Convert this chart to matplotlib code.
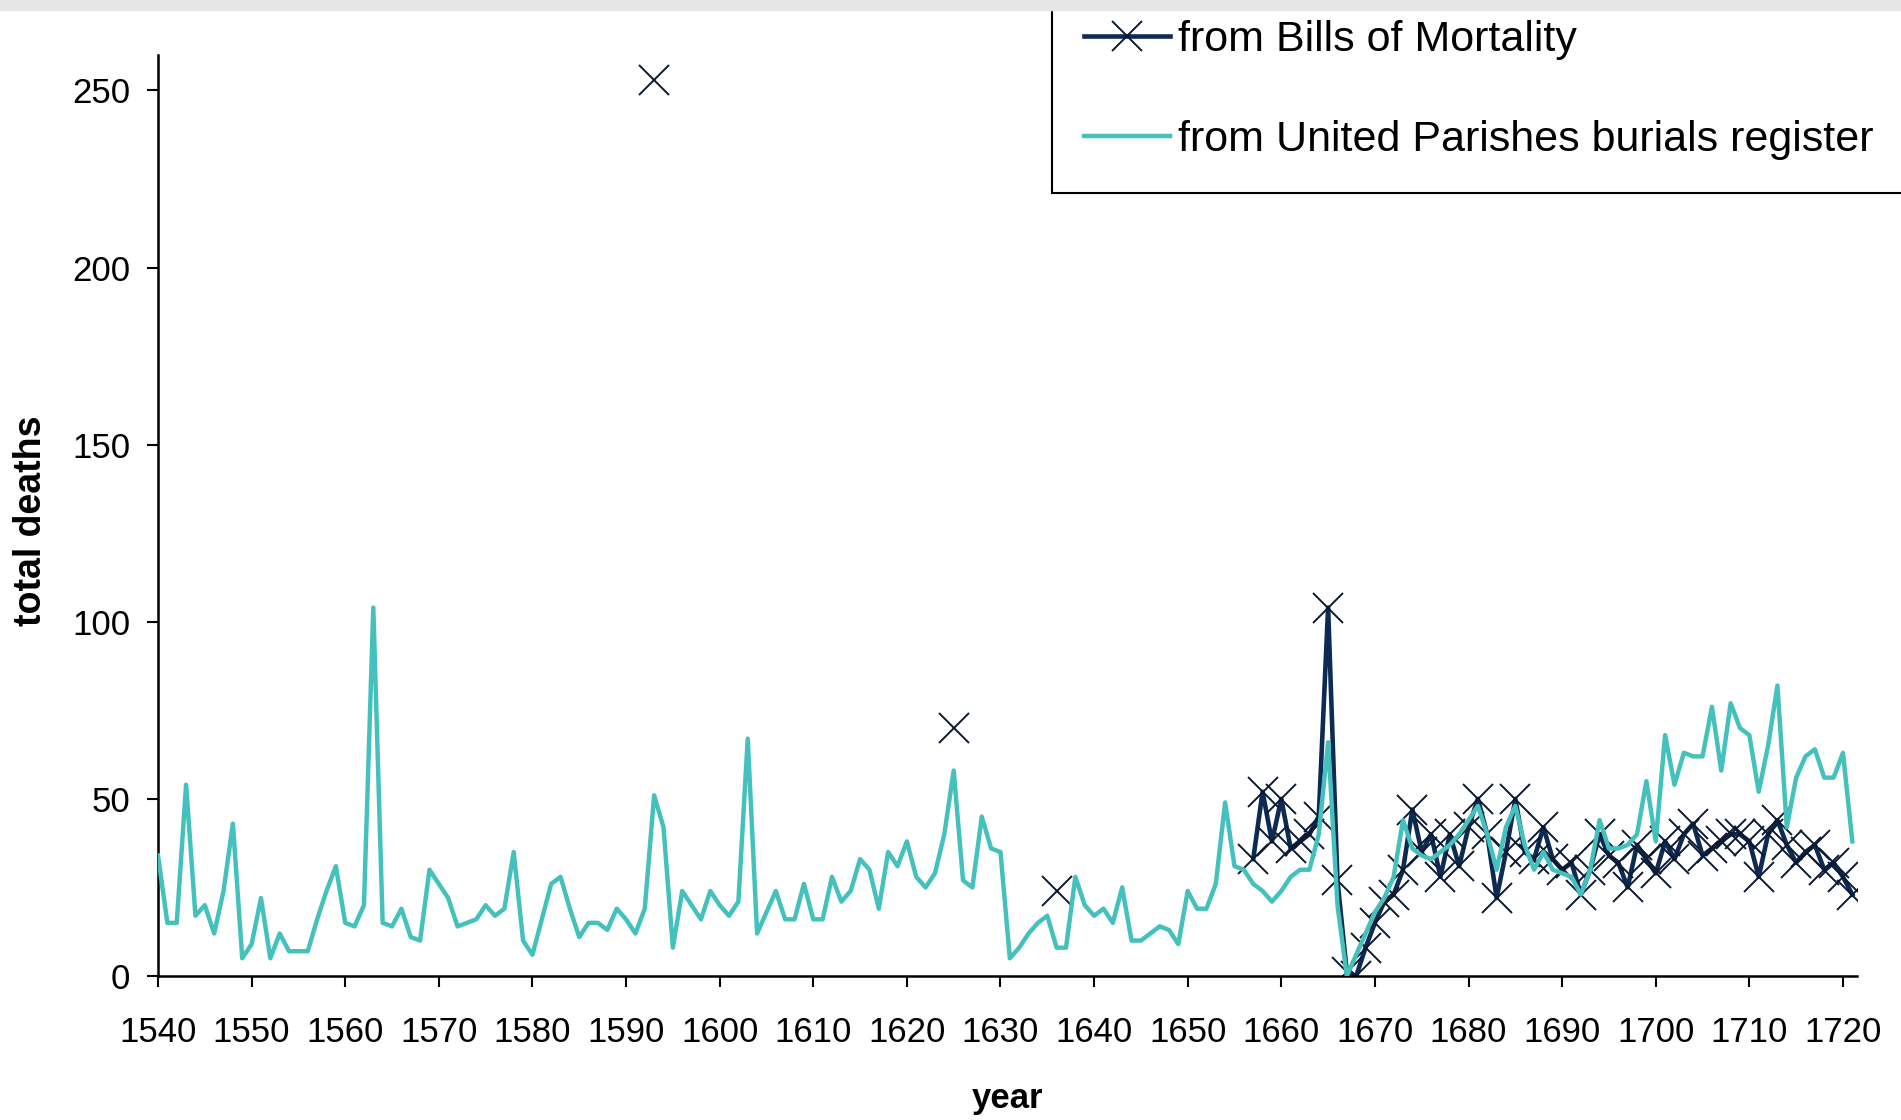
import numpy as np
import matplotlib
matplotlib.use('Agg')
import matplotlib.pyplot as plt
from matplotlib.patches import Rectangle

plt.rcParams['font.family'] = ['Liberation Sans', 'DejaVu Sans']

# United Parishes burials register, one value per year 1540-1721
parish_years = np.arange(1540, 1722)
parish_deaths = [
    34, 15, 15, 54, 17, 20, 12, 24, 43, 5,      # 1540s
    9, 22, 5, 12, 7, 7, 7, 16, 24, 31,          # 1550s
    15, 14, 20, 104, 15, 14, 19, 11, 10, 30,    # 1560s
    26, 22, 14, 15, 16, 20, 17, 19, 35, 10,     # 1570s
    6, 16, 26, 28, 19, 11, 15, 15, 13, 19,      # 1580s
    16, 12, 19, 51, 42, 8, 24, 20, 16, 24,      # 1590s
    20, 17, 21, 67, 12, 18, 24, 16, 16, 26,     # 1600s
    16, 16, 28, 21, 24, 33, 30, 19, 35, 31,     # 1610s
    38, 28, 25, 29, 40, 58, 27, 25, 45, 36,     # 1620s
    35, 5, 8, 12, 15, 17, 8, 8, 28, 20,         # 1630s
    17, 19, 15, 25, 10, 10, 12, 14, 13, 9,      # 1640s
    24, 19, 19, 26, 49, 31, 30, 26, 24, 21,     # 1650s
    24, 28, 30, 30, 40, 66, 20, 0, 6, 12,       # 1660s
    18, 22, 28, 44, 36, 34, 33, 35, 37, 40,     # 1670s
    44, 48, 40, 30, 42, 48, 37, 30, 35, 30,     # 1680s
    29, 28, 23, 30, 44, 36, 36, 37, 40, 55,     # 1690s
    38, 68, 54, 63, 62, 62, 76, 58, 77, 70,     # 1700s
    68, 52, 65, 82, 42, 56, 62, 64, 56, 56,     # 1710s
    63, 38,                                     # 1720-21
]

# Bills of Mortality: three isolated years, then a run 1657-1721
bills_years = [1593, 1625, 1636] + list(range(1657, 1722))
bills_deaths = [
    253, 70, 24,
    33, 52, 38,                                  # 1657-59
    50, 36, 38, 40, 45, 104, 27, 1, 0, 8,        # 1660s
    15, 21, 23, 30, 47, 35, 40, 28, 40, 31,      # 1670s
    42, 50, 40, 22, 35, 50, 35, 33, 42, 33,      # 1680s
    30, 32, 23, 30, 40, 34, 32, 25, 37, 33,      # 1690s
    29, 38, 33, 40, 43, 34, 36, 38, 40, 40,      # 1700s
    38, 28, 40, 44, 37, 32, 35, 37, 30, 32,      # 1710s
    28, 23,                                      # 1720-21
]

xticks = np.arange(1540, 1721, 10)
yticks = np.arange(0, 251, 50)

dark = '#0c2a52'
teal = '#45c1bd'

# break the bills line where years are missing
bx = np.array(bills_years, dtype=float)
by = np.array(bills_deaths, dtype=float)
gaps = np.where(np.diff(bx) > 1)[0] + 1
bx = np.insert(bx, gaps, np.nan)
by = np.insert(by, gaps, np.nan)

fig = plt.figure(figsize=(19.01, 11.2), dpi=100)
ax = fig.add_axes([158/1901, 144/1120, (1857-158)/1901, (976-55)/1120])

l1, = ax.plot(bx, by, color=dark, lw=3.3, marker='x', markersize=22,
              markeredgewidth=1.4, markeredgecolor='#0a1a33', zorder=2,
              label='from Bills of Mortality')
l2, = ax.plot(parish_years, parish_deaths, color=teal, lw=3.2, zorder=3,
              label='from United Parishes burials register')

ax.set_xlim(1540, 1721.5)
ax.set_ylim(0, 260)
ax.set_xticks(xticks)
ax.set_yticks(yticks)
for s in ['top', 'right']:
    ax.spines[s].set_visible(False)
for s in ['left', 'bottom']:
    ax.spines[s].set_linewidth(1.8)
ax.tick_params(direction='out', length=8, width=1.5, labelsize=25)
ax.tick_params(axis='x', pad=21)
ax.tick_params(axis='y', pad=12)

ax.set_xlabel('year', fontsize=25, fontweight='bold')
ax.xaxis.set_label_coords(0.5, -0.115)
ax.set_ylabel('total deaths', fontsize=27, fontweight='bold')
ax.yaxis.set_label_coords(-0.064, 0.494)

# legend box runs off the right edge of the figure, as in the original
leg = fig.legend(handles=[l1, l2], loc='lower left', mode='expand',
                 bbox_to_anchor=(1052/1901, 1 - 192.7/1120, 0.48, 0.2),
                 bbox_transform=fig.transFigure, borderaxespad=0,
                 fontsize=31, frameon=True, fancybox=False, framealpha=1,
                 edgecolor='black', handlelength=2.0, handletextpad=0.17,
                 labelspacing=1.4, borderpad=0.75)
leg.get_frame().set_linewidth(1.5)

fig.add_artist(Rectangle((0, 1 - 10/1120), 1, 10/1120, transform=fig.transFigure,
                         color='#e6e6e6', zorder=10))

fig.savefig('out.png', dpi=100)
